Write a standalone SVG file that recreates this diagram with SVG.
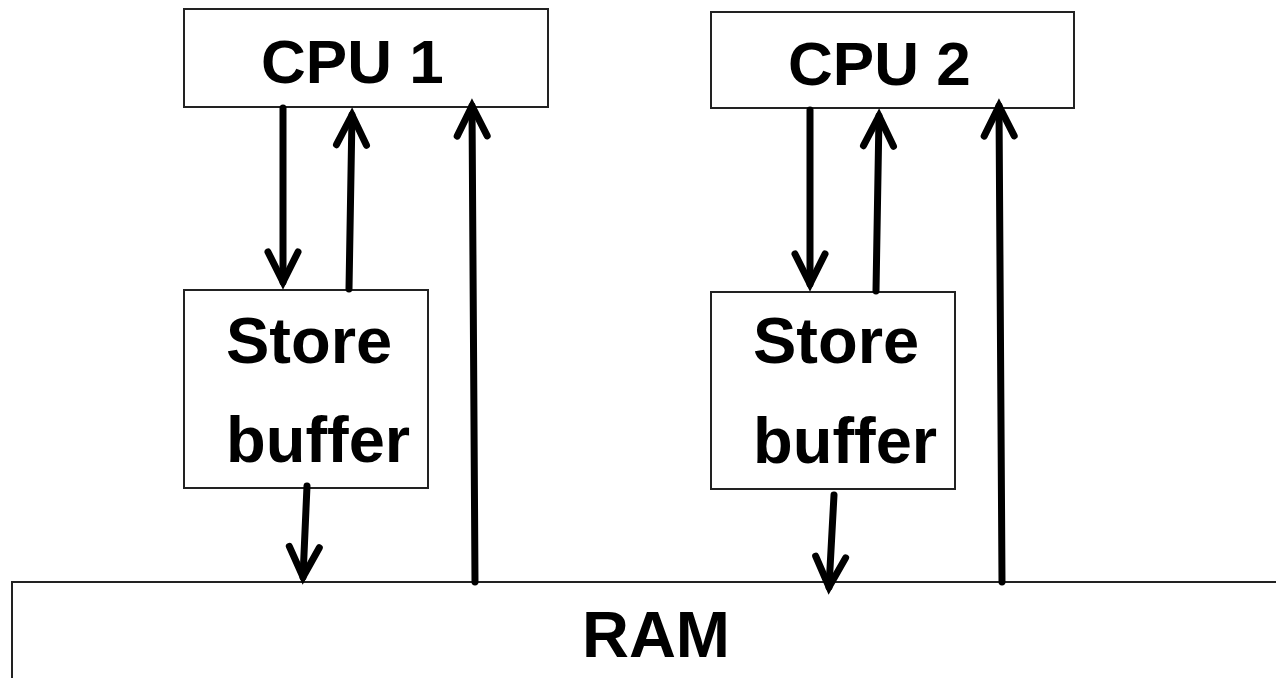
<svg xmlns="http://www.w3.org/2000/svg" width="1276" height="678" viewBox="0 0 1276 678">
<style>
.box{fill:#fff;stroke:#222;stroke-width:2}
.lbl{font-family:"Liberation Sans",Arial,sans-serif;font-weight:bold;font-size:65px;fill:#000}
.cpu{font-size:62px}
.arr{fill:none;stroke:#000;stroke-width:7;stroke-linecap:round;marker-end:url(#ah)}
</style>
<defs>
<marker id="ah" markerUnits="userSpaceOnUse" viewBox="-40 -20 50 40" markerWidth="50" markerHeight="40" refX="0" refY="0" orient="auto" overflow="visible">
<path d="M-30,-15 L0,0 L-30,15" fill="none" stroke="#000" stroke-width="7" stroke-linecap="round" stroke-linejoin="miter"/>
</marker>
</defs>
<g id="ram">
<rect class="box" x="12" y="582" width="1280" height="120"/>
<text class="lbl" x="656" y="657" text-anchor="middle">RAM</text>
</g>
<g id="cpu1">
<rect class="box" x="184" y="9" width="364" height="98"/>
<text class="lbl cpu" x="261" y="83">CPU 1</text>
</g>
<g id="cpu2">
<rect class="box" x="711" y="12" width="363" height="96"/>
<text class="lbl cpu" x="788" y="85">CPU 2</text>
</g>
<g id="sb1">
<rect class="box" x="184" y="290" width="244" height="198"/>
<text class="lbl" x="226" y="363">Store</text>
<text class="lbl" x="226" y="462">buffer</text>
</g>
<g id="sb2">
<rect class="box" x="711" y="292" width="244" height="197"/>
<text class="lbl" x="753" y="363">Store</text>
<text class="lbl" x="753" y="463">buffer</text>
</g>
<g id="connectors">
<line class="arr" x1="283" y1="108" x2="283" y2="282"/>
<line class="arr" x1="349" y1="289" x2="352" y2="115"/>
<line class="arr" x1="475" y1="582" x2="472" y2="106"/>
<line class="arr" x1="307" y1="486" x2="303" y2="577"/>
<line class="arr" x1="810" y1="110" x2="810" y2="284"/>
<line class="arr" x1="876" y1="291" x2="879" y2="116"/>
<line class="arr" x1="1002" y1="582" x2="999" y2="106"/>
<line class="arr" x1="834" y1="495" x2="829" y2="587"/>
</g>
</svg>
